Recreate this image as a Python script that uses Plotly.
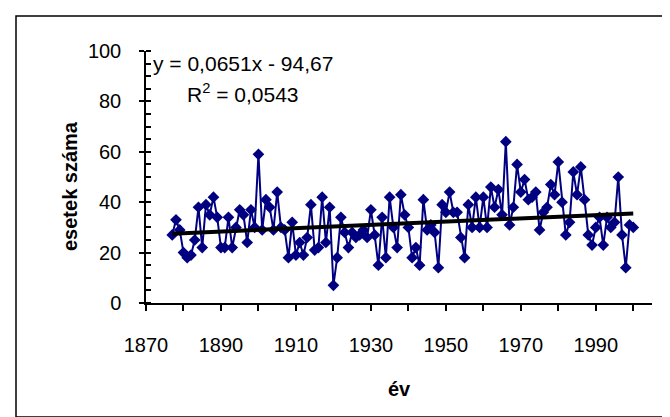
import plotly.graph_objects as go

years = list(range(1877, 2001))
cases = [27, 33, 29, 20, 18, 19, 25, 38, 22, 39,
         35, 42, 34, 22, 22, 34, 22, 30, 37, 35,
         24, 37, 30, 59, 29, 41, 38, 29, 44, 30,
         29, 18, 32, 19, 24, 19, 26, 39, 21, 22,
         42, 24, 38, 7, 18, 34, 28, 22, 28, 26,
         27, 29, 26, 37, 27, 15, 34, 18, 42, 30,
         22, 43, 35, 30, 18, 22, 15, 41, 29, 31,
         28, 14, 39, 36, 44, 36, 36, 26, 18, 39,
         30, 42, 30, 42, 30, 46, 38, 45, 35, 64,
         31, 38, 55, 44, 49, 41, 42, 44, 29, 36,
         38, 47, 43, 56, 40, 27, 32, 52, 43, 54,
         41, 27, 23, 30, 34, 23, 34, 30, 32, 50,
         27, 14, 31, 30]

slope = 0.0651
intercept = -94.67
eq_text = "y = 0,0651x - 94,67"
r2_text = "R<sup>2</sup> = 0,0543"
x_title = "év"
y_title = "esetek száma"

FONT = "Liberation Sans, Arial, sans-serif"
NAVY = "#000080"

trend_x = [years[0], years[-1]]
trend_y = [slope * x + intercept for x in trend_x]

fig = go.Figure()
fig.add_trace(go.Scatter(
    x=years, y=cases, mode="lines+markers",
    line=dict(color=NAVY, width=2),
    marker=dict(symbol="diamond", size=9, color=NAVY),
    showlegend=False, hoverinfo="skip"))
fig.add_trace(go.Scatter(
    x=trend_x, y=trend_y, mode="lines",
    line=dict(color="black", width=4),
    showlegend=False, hoverinfo="skip"))

W, H = 670, 417
L, R, T, B = 138, 26, 43, 122
pw = W - L - R
ph = H - T - B

def px(x):
    return (x - L) / pw

def py(y):
    return (H - B - y) / ph

fig.update_layout(
    width=W, height=H,
    margin=dict(l=L, r=R, t=T, b=B, pad=0),
    paper_bgcolor="white", plot_bgcolor="white",
    font=dict(family=FONT, size=20, color="black"),
    xaxis=dict(range=[1870, 2005], tick0=1870, dtick=20,
               showline=True, linecolor="black", linewidth=1.5,
               ticks="outside", ticklen=6, tickwidth=1.5, tickcolor="black",
               minor=dict(dtick=10, tick0=1870, ticks="outside", ticklen=6,
                          tickwidth=1.5, tickcolor="black"),
               showgrid=False, zeroline=False, ticklabelstandoff=17,
               tickfont=dict(family=FONT, size=20)),
    yaxis=dict(range=[0, 100], tick0=0, dtick=20,
               showline=True, linecolor="black", linewidth=1.5,
               ticks="outside", ticklen=5, tickwidth=1.5, tickcolor="black",
               minor=dict(dtick=5, ticks="inside", ticklen=5,
                          tickwidth=1.5, tickcolor="black"),
               showgrid=False, zeroline=False, ticklabelstandoff=14,
               tickfont=dict(family=FONT, size=20)),
    shapes=[dict(type="rect", xref="paper", yref="paper",
                 x0=px(8), x1=px(662), y0=py(409), y1=py(8),
                 line=dict(color="black", width=1.5), fillcolor="rgba(0,0,0,0)",
                 layer="below")],
    annotations=[
        dict(text=eq_text, x=px(235), y=py(55), xref="paper", yref="paper",
             showarrow=False, xanchor="center", yanchor="middle",
             font=dict(family=FONT, size=21)),
        dict(text=r2_text, x=px(235), y=py(85), xref="paper", yref="paper",
             showarrow=False, xanchor="center", yanchor="middle",
             font=dict(family=FONT, size=21)),
        dict(text="<b>" + x_title + "</b>", x=px(391), y=py(381),
             xref="paper", yref="paper", showarrow=False,
             xanchor="center", yanchor="middle",
             font=dict(family=FONT, size=20)),
        dict(text="<b>" + y_title + "</b>", x=px(62), y=py(178),
             xref="paper", yref="paper", showarrow=False, textangle=-90,
             xanchor="center", yanchor="middle",
             font=dict(family=FONT, size=20)),
    ],
)

fig.write_html("out.html")
